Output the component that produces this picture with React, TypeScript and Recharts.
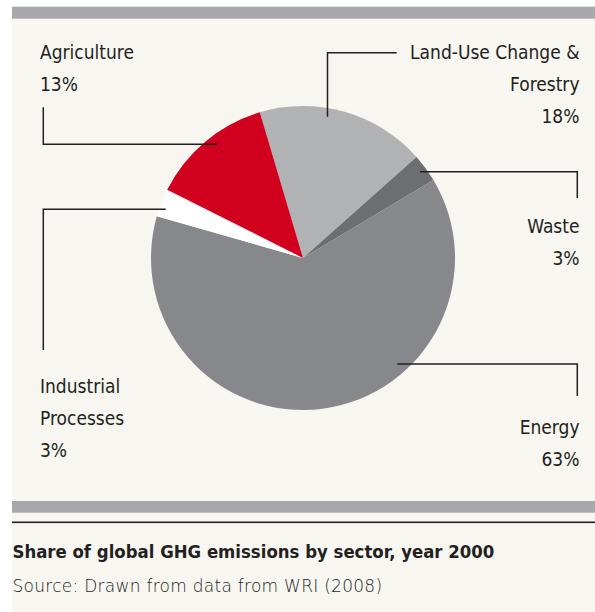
import { Cell, Pie, PieChart } from "recharts";

// sectors in drawing order, clockwise from just left of 12 o'clock
const sectors = ["Land-Use Change & Forestry", "Waste", "Energy", "Industrial Processes", "Agriculture"];
const shares = [18, 3, 63, 3, 13];
const sectorColors = ["#b1b2b4", "#6d6e71", "#87888b", "#ffffff", "#d2001f"];
const title = "Share of global GHG emissions by sector, year 2000";
const source = "Source: Drawn from data from WRI (2008)";

const data = sectors.map((name, i) => ({ name, value: shares[i] }));

const W = 595;
const H = 612;
const INK = "#231f20";
const FONT = "'DejaVu Sans Condensed', 'Liberation Sans Narrow', sans-serif";
const LINE_GAP = 31.8;

// callout layout: text block position and the elbow leader line
const callouts: Record<
  string,
  { lines: string[]; x: number; y: number; anchor: "start" | "end"; path: [number, number][] }
> = {
  "Land-Use Change & Forestry": {
    lines: ["Land-Use Change &", "Forestry"],
    x: 579.5,
    y: 59.3,
    anchor: "end",
    path: [[327.5, 116.7], [327.5, 52.7], [396.7, 52.7]],
  },
  Waste: {
    lines: ["Waste"],
    x: 579.5,
    y: 233,
    anchor: "end",
    path: [[420, 171.7], [577.3, 171.7], [577.3, 198]],
  },
  Energy: {
    lines: ["Energy"],
    x: 579.5,
    y: 434,
    anchor: "end",
    path: [[397.3, 364], [577.3, 364], [577.3, 396]],
  },
  "Industrial Processes": {
    lines: ["Industrial", "Processes"],
    x: 40,
    y: 393.4,
    anchor: "start",
    path: [[165.7, 209.3], [43.3, 209.3], [43.3, 350]],
  },
  Agriculture: {
    lines: ["Agriculture"],
    x: 40,
    y: 59.3,
    anchor: "start",
    path: [[43.3, 107.3], [43.3, 144.3], [217.3, 144.3]],
  },
};

function renderCallout(props: any) {
  const name = props.payload?.name ?? props.name;
  const c = callouts[name];
  if (!c) return null;
  const rows = [...c.lines, `${props.value}%`];
  return (
    <g key={name}>
      <polyline
        points={c.path.map((p) => p.join(",")).join(" ")}
        fill="none"
        stroke={INK}
        strokeWidth={1.5}
      />
      {rows.map((t, i) => (
        <text
          key={t}
          x={c.x}
          y={c.y + i * LINE_GAP}
          textAnchor={c.anchor}
          fill={INK}
          fontFamily={FONT}
          fontSize={19}
        >
          {t}
        </text>
      ))}
    </g>
  );
}

export default function App() {
  return (
    <div style={{ position: "relative", width: W, height: H, background: "#fff" }}>
      <style>{`body{margin:0}`}</style>
      <svg width={W} height={H} style={{ position: "absolute", left: 0, top: 0 }}>
        <rect x={12} y={6.7} width={W - 12} height={H} fill="#f7f6f1" />
        <rect x={12} y={6.7} width={W - 12} height={12} fill="#a7a8aa" />
        <rect x={12} y={501} width={W - 12} height={11.7} fill="#a7a8aa" />
        <rect x={12} y={521.5} width={W - 12} height={1.6} fill={INK} />
        <text x={12.5} y={557.7} fill={INK} fontFamily={FONT} fontWeight="bold" fontSize={18.4}>
          {title}
        </text>
        <text
          x={12.5}
          y={591.7}
          fill={INK}
          fontFamily="'DejaVu Sans', sans-serif"
          fontWeight={200}
          fontSize={17}
          letterSpacing={0.27}
        >
          {source}
        </text>
      </svg>
      <div style={{ position: "absolute", left: 0, top: 0 }}>
        <PieChart width={W} height={H} margin={{ top: 0, right: 0, bottom: 0, left: 0 }}>
          <Pie
            data={data}
            dataKey="value"
            nameKey="name"
            cx={303}
            cy={258}
            outerRadius={152}
            startAngle={106.5}
            endAngle={-253.5}
            stroke="none"
            label={renderCallout}
            labelLine={false}
            isAnimationActive={false}
          >
            {data.map((d, i) => (
              <Cell key={d.name} fill={sectorColors[i]} />
            ))}
          </Pie>
        </PieChart>
      </div>
    </div>
  );
}
